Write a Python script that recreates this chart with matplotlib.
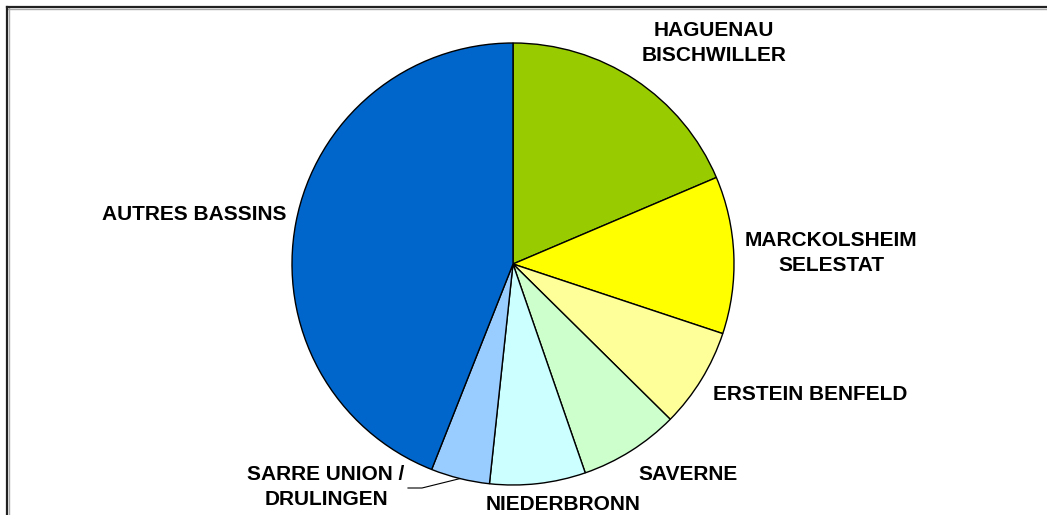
import matplotlib.pyplot as plt
import numpy as np

# share of each basin (%), clockwise from 12 o'clock
basins = ["HAGUENAU\nBISCHWILLER", "MARCKOLSHEIM\nSELESTAT", "ERSTEIN BENFELD",
          "SAVERNE", "NIEDERBRONN", "SARRE UNION /\nDRULINGEN", "AUTRES BASSINS"]
shares = [18.6, 11.5, 7.3, 7.3, 7.0, 4.3, 44.0]
colors = ["#99CC00", "#FFFF00", "#FFFF99", "#CCFFCC", "#CCFFFF", "#99CCFF", "#0066CC"]

# label centres in pixel space (layout only)
label_pos = [(714, 43), (831, 253), (810, 395), (688, 474), (563, 505), (326, 487), (194, 215)]

fig = plt.figure(figsize=(10.47, 5.15), dpi=100)
ax = fig.add_axes([0, 0, 1, 1])

# y axis runs downward (pixel space), so "counterclock" in data = clockwise on screen
wedges, _ = ax.pie(shares, colors=colors, startangle=-90, counterclock=True,
                   center=(513, 264), radius=221,
                   wedgeprops=dict(edgecolor="black", linewidth=1.0))
ax.set_xlim(0, 1047)
ax.set_ylim(515, 0)
ax.set_aspect("equal")
ax.axis("off")
for w in wedges:
    w.set_clip_on(False)

for name, (x, y) in zip(basins, label_pos):
    ax.text(x, y, name, ha="center", va="center", fontsize=15,
            fontweight="bold", family="Liberation Sans", linespacing=1.38)

# leader line for the small slice
w = wedges[5]
mid = np.deg2rad((w.theta1 + w.theta2) / 2)
ex = 513 + 221 * np.cos(mid)
ey = 264 + 221 * np.sin(mid)
ax.plot([408, 422, ex], [488, 488, ey], color="black", lw=0.8)

# chart frame (top and left edges visible), dark line with light shadow
fx, fy = 7 / 1047, 1 - 7 / 515
fig.add_artist(plt.Line2D([fx + 1 / 1047, 1], [fy - 1.5 / 515, fy - 1.5 / 515], color="#aaaaaa", lw=1.0))
fig.add_artist(plt.Line2D([fx + 1.5 / 1047, fx + 1.5 / 1047], [0, fy - 1 / 515], color="#aaaaaa", lw=1.0))
fig.add_artist(plt.Line2D([fx, 1], [fy, fy], color="#222222", lw=1.6))
fig.add_artist(plt.Line2D([fx, fx], [0, fy], color="#222222", lw=1.6))

fig.savefig("out.png", dpi=100)
